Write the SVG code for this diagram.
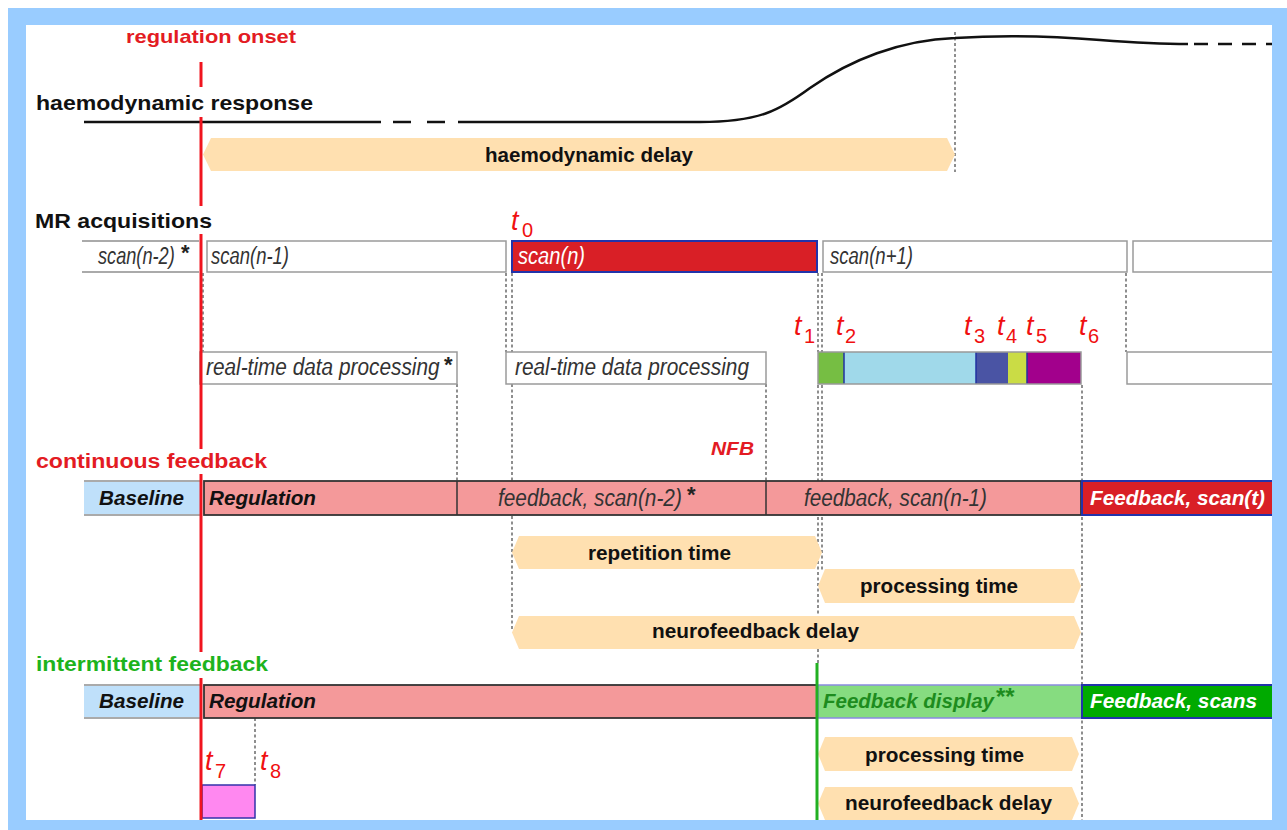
<svg xmlns="http://www.w3.org/2000/svg" width="1287" height="830" viewBox="0 0 1287 830">
<style>
text{font-family:"Liberation Sans",Arial,Helvetica,sans-serif}
.head{font-weight:bold;font-size:21px;fill:#111}
.arrow{fill:#FFE0B0}
.alab{font-weight:bold;font-size:20px;fill:#111}
.sbox{fill:#fff;stroke:#9a9a9a;stroke-width:1.5}
.stxt{font-style:italic;font-size:23px;fill:#333}
.btxt{font-style:italic;font-weight:bold;font-size:20px;fill:#111}
.wtxt{font-style:italic;font-weight:bold;font-size:20px;fill:#fff}
.dash{stroke:#444;stroke-width:1.2;stroke-dasharray:3 2.5;fill:none}
.tl{fill:#f01010;font-style:italic;font-size:27px}
.ts{fill:#f01010;font-size:20px}
.star{font-size:22px;font-weight:bold;font-style:normal;fill:#222}
.reg{fill:#F4999A;stroke:#333;stroke-width:1.8}
.base{fill:#BFE0FA}
.baseln{stroke:#aaa;stroke-width:2}
.redbox{fill:#D91F26;stroke:#2233AA;stroke-width:2}
</style>
<rect x="0" y="0" width="1287" height="830" fill="#fff"/>

<g id="connectors">
  <line class="dash" x1="955" y1="32" x2="955" y2="172"/>
  <line class="dash" x1="203" y1="273" x2="203" y2="352"/>
  <line class="dash" x1="506" y1="273" x2="506" y2="352"/>
  <line class="dash" x1="512" y1="273" x2="512" y2="352"/>
  <line class="dash" x1="512" y1="384" x2="512" y2="630"/>
  <line class="dash" x1="818" y1="273" x2="818" y2="352"/>
  <line class="dash" x1="822" y1="273" x2="822" y2="352"/>
  <line class="dash" x1="1126" y1="273" x2="1126" y2="352"/>
  <line class="dash" x1="457" y1="384" x2="457" y2="481"/>
  <line class="dash" x1="766" y1="384" x2="766" y2="481"/>
  <line class="dash" x1="818" y1="385" x2="818" y2="663"/>
  <line class="dash" x1="822" y1="385" x2="822" y2="570"/>
  <line class="dash" x1="1082" y1="385" x2="1082" y2="820"/>
  <line class="dash" x1="255" y1="718" x2="255" y2="785"/>
</g>

<g id="haemodynamic-curve" fill="none" stroke="#111" stroke-width="2.5">
  <line x1="84" y1="122" x2="381" y2="122"/>
  <line x1="393" y1="122" x2="411" y2="122"/>
  <line x1="427" y1="122" x2="445" y2="122"/>
  <path d="M458,122 L700,122 C760,122 780,110 810,88 C850,60 900,40 955,38 C1000,35 1040,35 1100,40 C1140,43 1165,44 1188,44"/>
  <line x1="1194" y1="44" x2="1272" y2="44" stroke-dasharray="14 10"/>
</g>

<g id="haemodynamic-delay">
  <path class="arrow" d="M211,138 H947 L955,154.5 L947,171 H211 L203,154.5 Z"/>
  <text class="alab" x="485" y="162" textLength="208" lengthAdjust="spacingAndGlyphs">haemodynamic delay</text>
</g>

<g id="scan-n-2">
  <line class="baseln" x1="82" y1="241" x2="199" y2="241"/>
  <line class="baseln" x1="82" y1="272" x2="199" y2="272"/>
  <text class="stxt" transform="translate(98,264) scale(0.79,1)" x="0" y="0">scan(n-2)</text>
  <text class="star" x="181" y="260">*</text>
</g>
<g id="scan-n-1">
  <rect class="sbox" x="207" y="241" width="299" height="31"/>
  <text class="stxt" x="211" y="264" textLength="78" lengthAdjust="spacingAndGlyphs">scan(n-1)</text>
</g>
<g id="scan-n">
  <rect class="redbox" x="512" y="241" width="305" height="31"/>
  <text class="stxt" style="fill:#fff" x="518" y="264" textLength="67" lengthAdjust="spacingAndGlyphs">scan(n)</text>
</g>
<g id="scan-n1">
  <rect class="sbox" x="823" y="241" width="304" height="31"/>
  <text class="stxt" x="830" y="264" textLength="83" lengthAdjust="spacingAndGlyphs">scan(n+1)</text>
</g>
<g id="scan-next">
  <rect class="sbox" x="1133" y="241" width="150" height="31"/>
</g>

<g id="proc-1">
  <rect class="sbox" x="200" y="352" width="257" height="32"/>
  <text class="stxt" transform="translate(206,375) scale(0.905,1)" x="0" y="0">real-time data processing</text>
  <text class="star" x="444" y="372">*</text>
</g>
<g id="proc-2">
  <rect class="sbox" x="506" y="352" width="260" height="32"/>
  <text class="stxt" x="515" y="375" textLength="234" lengthAdjust="spacingAndGlyphs">real-time data processing</text>
</g>
<g id="proc-steps">
  <rect x="818" y="352" width="26" height="32" fill="#76BE43"/>
  <rect x="844" y="352" width="132" height="32" fill="#A0D9EA"/>
  <rect x="976" y="352" width="32" height="32" fill="#4A54A4"/>
  <rect x="1008" y="352" width="19" height="32" fill="#CADC45"/>
  <rect x="1027" y="352" width="54" height="32" fill="#A2008C"/>
  <g stroke="#2030A0" stroke-width="1.5">
    <line x1="844" y1="352" x2="844" y2="384"/>
    <line x1="976" y1="352" x2="976" y2="384"/>
    <line x1="1027" y1="352" x2="1027" y2="384"/>
  </g>
  <rect x="818" y="352" width="263" height="32" fill="none" stroke="#999" stroke-width="1.5"/>
</g>
<g id="proc-next">
  <rect class="sbox" x="1127" y="352" width="160" height="32"/>
</g>

<g id="t-labels">
  <text class="tl" x="511" y="230">t</text><text class="ts" x="522" y="237">0</text>
  <text class="tl" x="794" y="335">t</text><text class="ts" x="804" y="343">1</text>
  <text class="tl" x="836" y="335">t</text><text class="ts" x="845" y="343">2</text>
  <text class="tl" x="964" y="335">t</text><text class="ts" x="974" y="343">3</text>
  <text class="tl" x="997" y="335">t</text><text class="ts" x="1006" y="343">4</text>
  <text class="tl" x="1026" y="335">t</text><text class="ts" x="1036" y="343">5</text>
  <text class="tl" x="1079" y="335">t</text><text class="ts" x="1088" y="343">6</text>
  <text class="tl" x="205" y="770">t</text><text class="ts" x="215" y="778">7</text>
  <text class="tl" x="260" y="770">t</text><text class="ts" x="270" y="778">8</text>
</g>

<g id="cont-baseline">
  <rect class="base" x="84" y="481" width="116" height="34"/>
  <line class="baseln" x1="84" y1="481" x2="200" y2="481"/>
  <line class="baseln" x1="84" y1="515" x2="200" y2="515"/>
  <text class="btxt" x="99" y="505" textLength="85" lengthAdjust="spacingAndGlyphs">Baseline</text>
</g>
<g id="cont-regulation">
  <rect class="reg" x="204" y="481" width="877" height="34"/>
  <line x1="457" y1="481" x2="457" y2="515" stroke="#333" stroke-width="1.5"/>
  <line x1="766" y1="481" x2="766" y2="515" stroke="#333" stroke-width="1.5"/>
  <text class="btxt" x="209" y="505" textLength="107" lengthAdjust="spacingAndGlyphs">Regulation</text>
  <text class="stxt" transform="translate(498,506) scale(0.905,1)" x="0" y="0">feedback, scan(n-2)</text>
  <text class="star" x="687" y="502">*</text>
  <text class="stxt" x="804" y="506" textLength="183" lengthAdjust="spacingAndGlyphs">feedback, scan(n-1)</text>
</g>
<g id="cont-feedback">
  <rect class="redbox" x="1082" y="481" width="205" height="34"/>
  <text class="wtxt" x="1090" y="505" textLength="175" lengthAdjust="spacingAndGlyphs">Feedback, scan(t)</text>
</g>
<g id="nfb">
  <text x="711" y="455" font-size="18" font-weight="bold" font-style="italic" fill="#E31B23" textLength="43" lengthAdjust="spacingAndGlyphs">NFB</text>
</g>

<g id="repetition-time">
  <path class="arrow" d="M519,536 H815 L822,552.5 L815,569 H519 L512,552.5 Z"/>
  <text class="alab" x="588" y="560" textLength="143" lengthAdjust="spacingAndGlyphs">repetition time</text>
</g>
<g id="processing-time-1">
  <path class="arrow" d="M825,569 H1074 L1081,586 L1074,603 H825 L818,586 Z"/>
  <text class="alab" x="860" y="593" textLength="158" lengthAdjust="spacingAndGlyphs">processing time</text>
</g>
<g id="nf-delay-1">
  <path class="arrow" d="M519,616 H1074 L1081,632.5 L1074,649 H519 L512,632.5 Z"/>
  <text class="alab" x="652" y="638" textLength="207" lengthAdjust="spacingAndGlyphs">neurofeedback delay</text>
</g>

<g id="int-baseline">
  <rect class="base" x="84" y="685" width="116" height="33"/>
  <line class="baseln" x1="84" y1="685" x2="200" y2="685"/>
  <line class="baseln" x1="84" y1="718" x2="200" y2="718"/>
  <text class="btxt" x="99" y="708" textLength="85" lengthAdjust="spacingAndGlyphs">Baseline</text>
</g>
<g id="int-regulation">
  <rect class="reg" x="204" y="685" width="613" height="33"/>
  <text class="btxt" x="209" y="708" textLength="107" lengthAdjust="spacingAndGlyphs">Regulation</text>
</g>
<g id="int-display">
  <rect x="818" y="685" width="264" height="33" fill="#86DC80" stroke="#8A8AE0" stroke-width="1.5"/>
  <text x="823" y="708" font-size="20" font-weight="bold" font-style="italic" fill="#1E8C1E"><tspan textLength="171" lengthAdjust="spacingAndGlyphs">Feedback display</tspan><tspan font-size="24" font-style="normal" dx="2" dy="-3">**</tspan></text>
</g>
<g id="int-feedback">
  <rect x="1082" y="685" width="205" height="33" fill="#00AA00" stroke="#2233AA" stroke-width="2"/>
  <text class="wtxt" x="1090" y="708" textLength="167" lengthAdjust="spacingAndGlyphs">Feedback, scans</text>
</g>
<g id="processing-time-2">
  <path class="arrow" d="M825,737 H1072 L1079,754 L1072,771 H825 L818,754 Z"/>
  <text class="alab" x="865" y="762" textLength="159" lengthAdjust="spacingAndGlyphs">processing time</text>
</g>
<g id="nf-delay-2">
  <path class="arrow" d="M825,787 H1072 L1079,803.5 L1072,820 H825 L818,803.5 Z"/>
  <text class="alab" x="845" y="810" textLength="207" lengthAdjust="spacingAndGlyphs">neurofeedback delay</text>
</g>
<g id="t7-box">
  <rect x="202" y="785" width="53" height="33" fill="#FF88F0" stroke="#3333AA" stroke-width="1.5"/>
</g>

<g id="onset-lines" stroke-width="3">
  <g stroke="#F0141E">
    <line x1="201" y1="62" x2="201" y2="87"/>
    <line x1="201" y1="117" x2="201" y2="206"/>
    <line x1="201" y1="234" x2="201" y2="449"/>
    <line x1="201" y1="474" x2="201" y2="652"/>
    <line x1="201" y1="678" x2="201" y2="822"/>
  </g>
  <line x1="817" y1="663" x2="817" y2="822" stroke="#22B022"/>
</g>

<g id="headings">
  <text x="126" y="43" font-size="19" font-weight="bold" fill="#E31B23" textLength="170" lengthAdjust="spacingAndGlyphs">regulation onset</text>
  <text class="head" x="36" y="110" textLength="277" lengthAdjust="spacingAndGlyphs">haemodynamic response</text>
  <text class="head" x="35" y="228" textLength="177" lengthAdjust="spacingAndGlyphs">MR acquisitions</text>
  <text x="36" y="468" font-size="19.5" font-weight="bold" fill="#E31B23" textLength="231" lengthAdjust="spacingAndGlyphs">continuous feedback</text>
  <text x="36" y="671" font-size="19.5" font-weight="bold" fill="#1DB31D" textLength="232" lengthAdjust="spacingAndGlyphs">intermittent feedback</text>
</g>

<path fill="#99CCFF" fill-rule="evenodd" d="M8,8 H1287 V830 H8 Z M26,25 V820 H1272 V25 Z"/>
</svg>
